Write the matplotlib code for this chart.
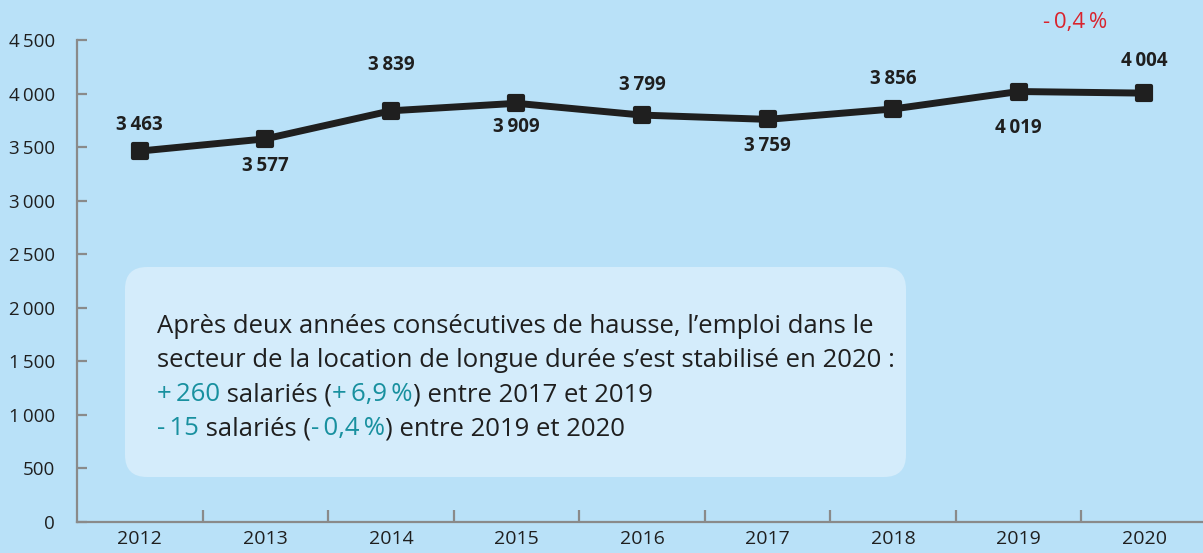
import numpy as np
import matplotlib.pyplot as plt
from matplotlib.patches import FancyBboxPatch
from matplotlib.markers import MarkerStyle
from matplotlib.transforms import IdentityTransform

# data
years = ["2012", "2013", "2014", "2015", "2016", "2017", "2018", "2019", "2020"]
salaries = [3463, 3577, 3839, 3909, 3799, 3759, 3856, 4019, 4004]
label_side = [1, -1, 1, -1, 1, -1, 1, -1, 1]       # above / below the point
label_gap = [26, 27, 46, 24, 30, 27, 30, 36, 32]     # pixels
y_ticks = list(range(0, 4501, 500))

text_lines = [
    [("Après deux années consécutives de hausse, l\u2019emploi dans le", "ink")],
    [("secteur de la location de longue durée s\u2019est stabilisé en 2020 :", "ink")],
    [("+\u2009260", "teal"), (" salariés (", "ink"), ("+\u20096,9\u2009%", "teal"),
     (") entre 2017 et 2019", "ink")],
    [("-\u200915", "teal"), (" salariés (", "ink"), ("-\u20090,4\u2009%", "teal"),
     (") entre 2019 et 2020", "ink")],
]

BG = "#b9e1f8"
BOX = "#d4ecfb"
INK = "#1f1f1f"
GREY = "#8a8a8a"
TEAL = "#18909f"
RED = "#d9232d"
colors = {"ink": INK, "teal": TEAL}

plt.rcParams['font.family'] = ['Open Sans', 'DejaVu Sans']


def fmt(v):
    return f"{v:,}".replace(",", "\u2009")


fig = plt.figure(figsize=(12.03, 5.53), dpi=100)
fig.patch.set_facecolor(BG)
ax = fig.add_axes([77 / 1203, 31 / 553, 1130 / 1203, 482 / 553])
ax.set_facecolor(BG)

x = np.arange(len(years))
ax.plot(x, salaries, color=INK, lw=5, zorder=4, clip_on=False,
        marker=MarkerStyle('s', joinstyle='round'), ms=10, mew=3,
        mec=INK, mfc=INK)

for xi, v, s, g in zip(x, salaries, label_side, label_gap):
    ax.annotate(fmt(v), (xi, v), xytext=(0, s * g), textcoords='offset pixels',
                ha='center', va='center', fontsize=13.5, fontweight='bold',
                color=INK, zorder=5)

ax.text(7.45, 4660, "-\u20090,4\u2009%", color=RED, fontsize=16,
        ha='center', va='center', clip_on=False)

ax.set_xlim(-0.5, 8.5)
ax.set_ylim(0, 4500)
for side in ["top", "right"]:
    ax.spines[side].set_visible(False)
for side in ["left", "bottom"]:
    ax.spines[side].set_color(GREY)
    ax.spines[side].set_linewidth(1.6)

ax.set_yticks(y_ticks)
ax.set_yticklabels([fmt(v) for v in y_ticks])
ax.tick_params(axis='y', direction='in', length=7.5, width=1.6, color=GREY,
               pad=16, labelsize=13.5, labelcolor=INK)

ax.set_xticks(np.arange(0.5, len(years) - 1, 1))
ax.set_xticklabels([])
ax.set_xticks(x, minor=True)
ax.set_xticklabels(years, minor=True)
ax.tick_params(axis='x', which='major', direction='in', length=9, width=1.6,
               color=GREY)
ax.tick_params(axis='x', which='minor', length=0, pad=6, labelsize=14,
               labelcolor=INK)

# comment box
px = IdentityTransform()
box = FancyBboxPatch((125, 76), 781, 210, boxstyle="round,pad=0,rounding_size=22",
                     transform=px, facecolor=BOX, edgecolor="none", zorder=2)
fig.patches.append(box)

renderer = fig.canvas.get_renderer()
TS = 18.5


def width(s):
    t = fig.text(0, 0, s, fontsize=TS, transform=px)
    w = t.get_window_extent(renderer).width
    t.remove()
    return w


bar_w = width("|")
baseline = 220
for line in text_lines:
    prefix = ""
    for piece, c in line:
        off = width(prefix + "|") - bar_w if prefix else 0
        fig.text(157 + off, baseline, piece, fontsize=TS, color=colors[c],
                 ha='left', va='baseline', transform=px, zorder=3)
        prefix += piece
    baseline -= 34

fig.savefig("out.png", dpi=100, facecolor=BG)
